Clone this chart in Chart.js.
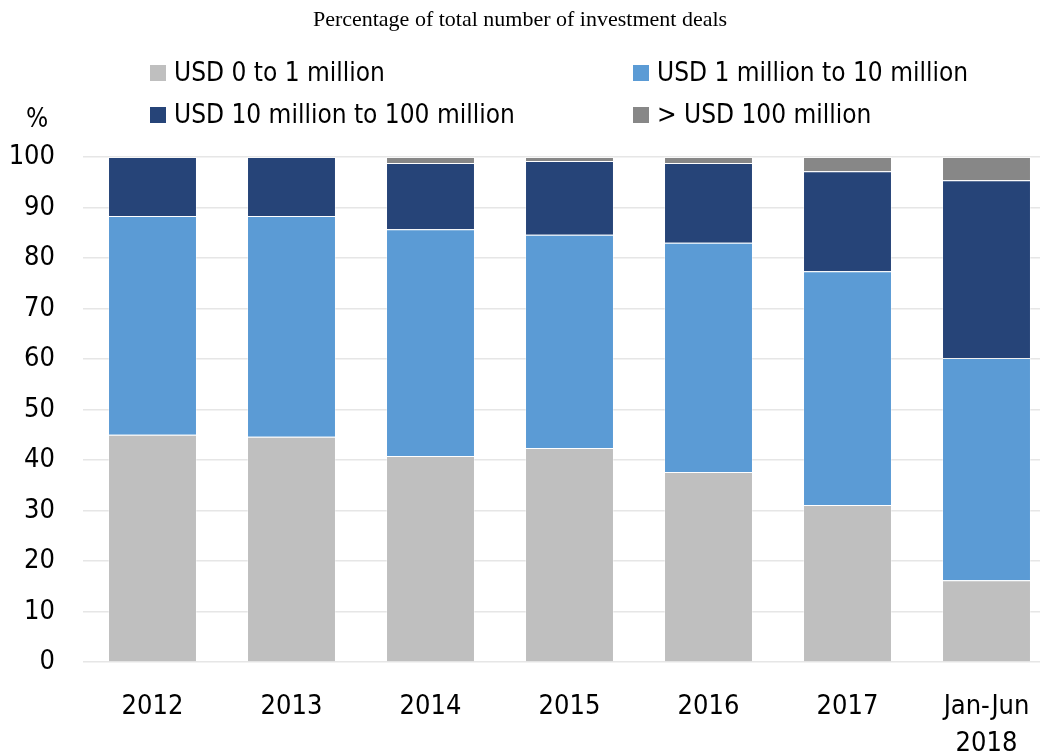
<!DOCTYPE html>
<html>
<head>
<meta charset="utf-8">
<script src="https://cdn.jsdelivr.net/npm/chart.js@4"></script>
<style>
  html, body { margin: 0; padding: 0; background: #fff; overflow: hidden; }
  #wrap { position: relative; width: 1040px; height: 754px; overflow: hidden; }
  #box { position: absolute; left: 0; top: 0; width: 1056px; height: 760px; }
  #title { position: absolute; left: 0; width: 1040px; top: 6px; text-align: center;
    font-family: "Liberation Serif", "Times New Roman", serif; font-size: 22px; color: #000; }
  .leg { position: absolute; font-family: "Liberation Sans Narrow", "DejaVu Sans Condensed", sans-serif;
    font-size: 26px; color: #000; white-space: nowrap; line-height: 30px; }
  .leg span.sw { display: inline-block; width: 16px; height: 16px; margin-right: 8px; vertical-align: 0px; }
  #pct { position: absolute; left: 26px; top: 103px; font-family: "Liberation Sans Narrow", "DejaVu Sans Condensed", sans-serif;
    font-size: 26px; color: #000; }
</style>
</head>
<body>
<div id="wrap">
  <div id="box"><canvas id="chart1"></canvas></div>
  <div id="title">Percentage of total number of investment deals</div>
  <div id="legend"></div>
  <div id="pct">%</div>
</div>
<script>
const categories = [['2012'], ['2013'], ['2014'], ['2015'], ['2016'], ['2017'], ['Jan-Jun', '2018']];
const seriesNames = ['USD 0 to 1 million', 'USD 1 million to 10 million', 'USD 10 million to 100 million', '> USD 100 million'];
const seriesColors = ['#bfbfbf', '#5b9bd5', '#264478', '#878787'];
const usd0to1 = [45.0, 44.6, 40.8, 42.4, 37.6, 31.1, 16.2];
const usd1to10 = [43.3, 43.7, 44.9, 42.2, 45.4, 46.3, 44.0];
const usd10to100 = [11.7, 11.7, 13.1, 14.6, 15.8, 19.8, 35.2];
const usdOver100 = [0, 0, 1.2, 0.8, 1.2, 2.8, 4.6];
const yTicks = [0, 10, 20, 30, 40, 50, 60, 70, 80, 90, 100];

const seriesValues = [usd0to1, usd1to10, usd10to100, usdOver100];
const axisFont = { family: '"Liberation Sans Narrow", "DejaVu Sans Condensed", sans-serif', size: 27 };

// legend as real text, two columns
const legendPos = [[150, 57], [633, 57], [150, 99], [633, 99]];
const legendBox = document.getElementById('legend');
seriesNames.forEach((name, i) => {
    const d = document.createElement('div');
    d.className = 'leg';
    d.style.left = legendPos[i][0] + 'px';
    d.style.top = legendPos[i][1] + 'px';
    d.innerHTML = '<span class="sw" style="background:' + seriesColors[i] + '"></span>';
    d.appendChild(document.createTextNode(name));
    legendBox.appendChild(d);
});

const chart1 = document.getElementById('chart1').getContext('2d');

new Chart(chart1, {
    type: 'bar',
    data: {
        labels: categories,
        datasets: seriesNames.map((name, i) => ({
            label: name,
            data: seriesValues[i],
            backgroundColor: seriesColors[i],
            borderColor: 'rgba(255,255,255,0.35)',
            borderWidth: 1,
            barPercentage: 0.64,
            categoryPercentage: 1
        }))
    },
    options: {
        responsive: true,
        maintainAspectRatio: false,
        animation: false,
        layout: { padding: { top: 157, right: 0, bottom: 0, left: 0 } },
        plugins: {
            legend: { display: false },
            tooltip: { enabled: false }
        },
        scales: {
            x: {
                stacked: true,
                grid: { display: false },
                border: { display: false },
                afterFit: (scale) => { scale.height = 98; },
                ticks: { color: '#000', font: { ...axisFont, lineHeight: 1.37 }, padding: 18, maxRotation: 0 }
            },
            y: {
                stacked: true,
                min: 0,
                max: 100,
                afterBuildTicks: (scale) => { scale.ticks = yTicks.map(v => ({ value: v })); },
                afterFit: (scale) => { scale.width = 83; },
                grid: { color: '#e6e6e6', lineWidth: 1.5, drawTicks: false },
                border: { display: false },
                ticks: { color: '#000', font: axisFont, padding: 28 }
            }
        }
    }
});
</script>
</body>
</html>
